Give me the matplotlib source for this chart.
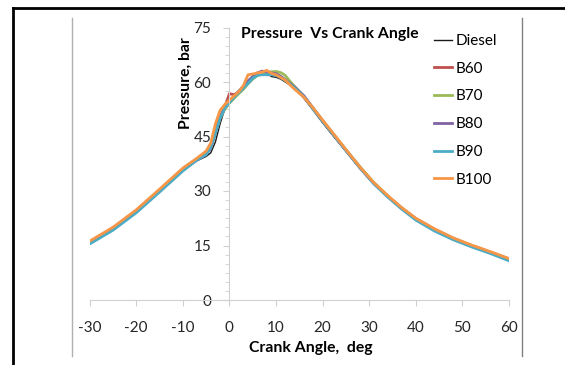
import matplotlib.pyplot as plt
from matplotlib.lines import Line2D
from matplotlib.ticker import MultipleLocator

plt.rcParams['font.family'] = ['Lato', 'DejaVu Sans']
plt.rcParams['axes.unicode_minus'] = False

# crank angle, deg
crank = [-30, -25, -20, -15, -10, -7, -5, -4, -3, -2, -1, 0, 1, 2, 3, 4, 5, 6, 7, 8, 9,
         10, 11, 12, 13, 14, 16, 18, 20, 22, 25, 28, 31, 34, 37, 40, 44, 48, 52, 56, 60]

diesel = [15.8, 19.6, 24.4, 30.0, 35.8, 38.3, 39.5, 40.5, 43.5, 48.5, 52.5, 54.0, 55.8, 57.0,
          58.2, 59.5, 60.8, 61.8, 62.5, 62.6, 61.5, 61.3, 60.8, 60.0, 59.2, 58.3, 55.5, 52.2,
          48.8, 45.6, 40.9, 36.2, 31.9, 28.3, 25.0, 22.2, 19.3, 16.8, 14.8, 13.0, 11.2]
b60 = [16.0, 19.8, 24.6, 30.2, 36.0, 38.8, 40.5, 42.5, 46.5, 50.5, 53.0, 56.8, 56.5, 57.2,
       58.5, 60.0, 61.2, 62.2, 62.5, 62.0, 62.0, 62.3, 61.5, 60.5, 59.5, 58.5, 55.8, 52.6,
       49.2, 46.0, 41.2, 36.5, 32.2, 28.6, 25.3, 22.4, 19.5, 17.0, 15.0, 13.2, 11.3]
b70 = [15.9, 19.7, 24.5, 30.1, 35.9, 38.7, 40.3, 42.0, 46.0, 50.0, 52.5, 54.2, 55.5, 56.8,
       58.0, 59.5, 60.8, 61.8, 62.5, 62.7, 62.8, 62.9, 62.6, 61.8, 60.2, 58.8, 56.0, 52.8,
       49.4, 46.2, 41.4, 36.7, 32.3, 28.6, 25.3, 22.4, 19.4, 17.0, 15.0, 13.1, 11.2]
b80 = [15.7, 19.5, 24.3, 30.0, 35.8, 38.5, 40.0, 41.8, 46.0, 50.2, 53.0, 54.5, 56.0, 57.5,
       58.8, 60.3, 61.5, 62.5, 63.0, 62.8, 62.5, 62.3, 61.5, 60.6, 59.6, 58.6, 56.2, 52.7,
       49.3, 46.0, 41.2, 36.4, 32.0, 28.5, 25.1, 22.2, 19.2, 16.8, 14.8, 13.0, 11.0]
b90 = [15.4, 19.2, 24.0, 29.7, 35.5, 38.5, 40.0, 42.0, 46.0, 50.0, 52.8, 54.3, 55.8, 57.0,
       58.3, 59.6, 61.0, 61.8, 62.0, 62.0, 62.0, 61.8, 61.2, 60.4, 59.4, 58.4, 55.9, 52.5,
       49.2, 46.0, 41.2, 36.4, 32.0, 28.3, 25.0, 22.0, 19.0, 16.6, 14.6, 12.8, 10.8]
b100 = [16.2, 20.0, 24.8, 30.5, 36.3, 39.0, 41.0, 43.2, 48.5, 52.2, 53.8, 55.0, 56.2, 57.3,
        59.0, 62.0, 62.2, 62.5, 62.7, 63.2, 62.4, 62.0, 61.2, 60.5, 59.2, 58.0, 55.8, 52.8,
        49.5, 46.3, 41.4, 36.6, 32.3, 28.7, 25.4, 22.5, 19.6, 17.1, 15.1, 13.3, 11.4]

series = [('Diesel', diesel, '#1a1a1a', 1.0),
          ('B60', b60, '#C0504D', 2.0),
          ('B70', b70, '#9BBB59', 2.0),
          ('B80', b80, '#8064A2', 2.0),
          ('B90', b90, '#4BACC6', 2.0),
          ('B100', b100, '#F79646', 2.0)]

fig = plt.figure(figsize=(5.65, 3.65), dpi=100)
ax = fig.add_axes([89.6 / 565, 65 / 365, 419.4 / 565, 272.5 / 365])

for name, vals, col, lw in series:
    ax.plot(crank, vals, color=col, lw=lw, label=name)

ax.set_xlim(-30, 60)
ax.set_ylim(0, 75)
ax.xaxis.set_major_locator(MultipleLocator(10))
ax.yaxis.set_major_locator(MultipleLocator(15))
ax.yaxis.set_minor_locator(MultipleLocator(2.5))

grey = '#D0D0D0'
for s in ['top', 'right']:
    ax.spines[s].set_visible(False)
ax.spines['left'].set_position(('data', 0))
ax.spines['left'].set_color(grey)
ax.spines['bottom'].set_color(grey)
ax.tick_params(axis='x', direction='out', length=4, color=grey, pad=11, labelsize=11,
               labelcolor='#262626')
ax.tick_params(axis='y', which='major', direction='out', length=4, color=grey, pad=9,
               labelsize=11, labelcolor='#262626')
ax.tick_params(axis='y', which='minor', direction='out', length=3, color=grey)

fig.text(241 / 565, 1 - 34 / 365, 'Pressure  Vs Crank Angle', fontsize=11.3,
         fontweight='bold', ha='left', va='center')
fig.text(185.6 / 565, 1 - 83 / 365, 'Pressure, bar', rotation=90, fontsize=11.3,
         fontweight='bold', ha='center', va='center')
fig.text(311 / 565, 1 - 348 / 365, 'Crank Angle,  deg', fontsize=11.3,
         fontweight='bold', ha='center', va='center')

ax.legend(loc='upper left', bbox_to_anchor=(434 / 565, 1 - 34 / 365),
          bbox_transform=fig.transFigure, frameon=False, fontsize=11,
          handlelength=1.2, handletextpad=0.2, labelspacing=0.9, borderpad=0,
          borderaxespad=0)

# chart area frame lines
fig.add_artist(Line2D([72 / 565, 72 / 565], [1 - 18 / 365, 1 - 356 / 365],
                      color='#B0B0B0', lw=1))
fig.add_artist(Line2D([522 / 565, 522 / 565], [1 - 18 / 365, 1 - 356 / 365],
                      color='#808080', lw=1))
fig.add_artist(Line2D([13 / 565, 13 / 565], [0, 1 - 8 / 365], color='black', lw=2))
fig.add_artist(Line2D([13 / 565, 1], [1 - 8 / 365, 1 - 8 / 365], color='black', lw=2))

fig.savefig('out.png', dpi=100)
